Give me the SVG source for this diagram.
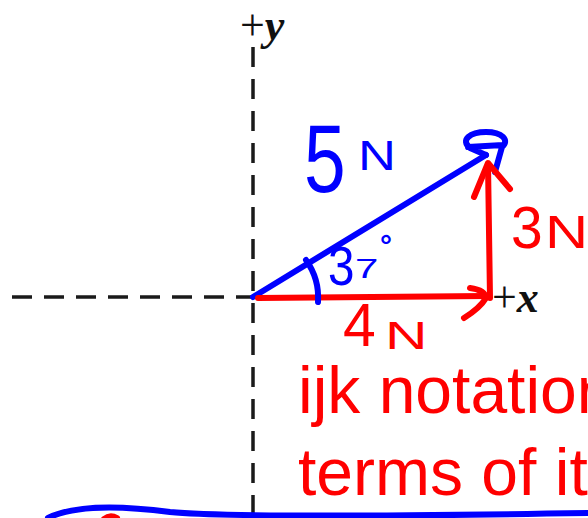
<svg xmlns="http://www.w3.org/2000/svg" width="588" height="518" viewBox="0 0 588 518">
<style>
.axis{stroke:#1a1a1a;stroke-width:3.5;stroke-dasharray:20 12;fill:none}
.ink{fill:none;stroke-width:6;stroke-linecap:round;stroke-linejoin:round}
.blue{stroke:#0000ff}
.red{stroke:#ff0000}
.axlbl{font-family:"Liberation Serif",serif;font-size:44px;fill:#111}
.hand{font-family:"Liberation Sans",sans-serif}
.bt{fill:#0000ff}
.rt{fill:#ff0000}
.note{font-family:"Liberation Sans",Arial,sans-serif;font-size:66px;fill:#ff0000}
</style>
<rect width="588" height="518" fill="#ffffff"/>
<g id="axes">
  <line class="axis" x1="12" y1="297" x2="492" y2="297"/>
  <line class="axis" x1="253" y1="47" x2="253" y2="518"/>
  <text class="axlbl" x="240" y="40">+<tspan font-weight="bold" font-style="italic">y</tspan></text>
  <text class="axlbl" x="492" y="312">+<tspan font-weight="bold" font-style="italic">x</tspan></text>
</g>
<g id="connectors">
  <g id="vec-5N">
    <path class="ink blue" d="M253,297 L486,155"/>
    <path class="ink blue" d="M486,155 L470,148 C460,140 470,132 486,132 C502,132 510,140 502,147 L495,172 M468,147 L503,145"/>
  </g>
  <g id="vec-4N">
    <path class="ink red" d="M258,298 L486,296"/>
    <path class="ink red" d="M470,288 Q485,290 486,298 Q480,308 464,318"/>
  </g>
  <g id="vec-3N">
    <path class="ink red" d="M490,298 L488,164"/>
    <path class="ink red" d="M474,197 L488,163 L510,189"/>
  </g>
  <path id="angle-arc" class="ink blue" d="M306,260 A65,65 0 0 1 318,302"/>
  <path id="bottom-curve" class="ink blue" d="M48,518 C70,507 110,504 170,512 C220,517 400,516 590,513"/>
  <path class="ink red" stroke-width="4" d="M104,519 Q110,514 117,518"/>
</g>
<g id="label-5N">
  <text class="hand bt" transform="translate(304,192) scale(0.78,1)" font-size="96">5</text>
  <text class="hand bt" transform="translate(358,170) scale(1.25,1)" font-size="42">N</text>
</g>
<g id="label-37">
  <text class="hand bt" transform="translate(328,285) scale(0.85,1)" font-size="56">3</text>
  <text class="hand bt" transform="translate(355,278) scale(1.5,1)" font-size="28">7</text>
  <text class="hand bt" x="380" y="256" font-size="30" font-weight="bold">°</text>
</g>
<g id="label-3N">
  <text class="hand rt" transform="translate(511,248) scale(0.95,1)" font-size="60">3</text>
  <text class="hand rt" transform="translate(545,248) scale(1.3,1)" font-size="46">N</text>
</g>
<g id="label-4N">
  <text class="hand rt" transform="translate(343,346) scale(0.95,1)" font-size="62">4</text>
  <text class="hand rt" transform="translate(385,349) scale(1.55,1)" font-size="38">N</text>
</g>
<g id="note">
  <text class="note" x="298" y="413">ijk notation</text>
  <text class="note" x="298" y="495">terms of it</text>
</g>
</svg>
